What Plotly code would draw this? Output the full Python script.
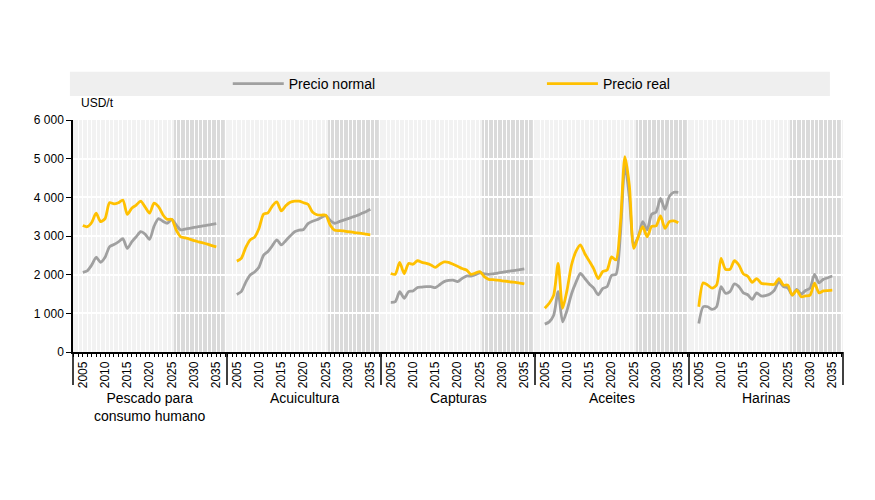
import plotly.graph_objects as go
from plotly.subplots import make_subplots

years = list(range(2005, 2036))
categories = ["Pescado para<br>consumo humano", "Acuicultura", "Capturas", "Aceites", "Harinas"]

# USD/t, precio normal (nominal)
pescado_normal = [2060, 2100, 2250, 2450, 2320, 2450, 2720, 2780, 2850, 2930, 2680, 2850, 2980, 3110, 3050,
                  2910, 3250, 3450, 3380, 3330, 3430, 3280, 3160, 3180, 3200, 3220, 3240, 3260, 3280, 3300, 3320]
acui_normal = [1490, 1560, 1800, 1990, 2070, 2200, 2500, 2600, 2750, 2900, 2770, 2880, 3000, 3110, 3150,
               3170, 3320, 3380, 3420, 3480, 3530, 3400, 3330, 3370, 3410, 3450, 3490, 3530, 3580, 3630, 3690]
capt_normal = [1285, 1300, 1560, 1390, 1560, 1580, 1670, 1680, 1690, 1690, 1665, 1740, 1820, 1850, 1860,
               1820, 1900, 1965, 1965, 2000, 2050, 2020, 2010, 2020, 2040, 2060, 2080, 2100, 2110, 2130, 2150]
aceite_normal = [720, 780, 950, 1560, 780, 1080, 1500, 1800, 2030, 1900, 1760, 1650, 1480, 1640, 1690,
                 1980, 2010, 3070, 4840, 4000, 2770, 2980, 3370, 3160, 3560, 3620, 3970, 3690, 4030, 4130, 4130]
harina_normal = [740, 1170, 1170, 1100, 1170, 1690, 1520, 1560, 1760, 1690, 1530, 1480, 1360, 1530, 1450,
                 1460, 1500, 1600, 1820, 1690, 1660, 1470, 1620, 1500, 1590, 1650, 2010, 1790, 1880, 1920, 1965]

# USD/t, precio real
pescado_real = [3270, 3240, 3350, 3590, 3370, 3450, 3860, 3830, 3860, 3930, 3560, 3720, 3800, 3900, 3750,
                3590, 3850, 3760, 3550, 3430, 3430, 3150, 2980, 2950, 2920, 2880, 2850, 2820, 2790, 2750, 2720]
acui_real = [2350, 2420, 2700, 2900, 2970, 3200, 3560, 3600, 3780, 3880, 3650, 3780, 3870, 3900, 3900,
             3860, 3820, 3620, 3550, 3540, 3540, 3280, 3150, 3140, 3130, 3110, 3100, 3080, 3070, 3050, 3030]
capt_real = [2030, 2010, 2320, 2030, 2290, 2270, 2360, 2320, 2290, 2250, 2190, 2270, 2330, 2320, 2270,
             2220, 2160, 2120, 2010, 2040, 2080, 1950, 1880, 1870, 1860, 1840, 1830, 1810, 1800, 1780, 1760]
aceite_real = [1130, 1260, 1470, 2290, 1130, 1600, 2250, 2600, 2770, 2540, 2350, 2150, 1900, 2080, 2120,
               2460, 2380, 3330, 5050, 4300, 2680, 2980, 3240, 2980, 3250, 3260, 3520, 3200, 3370, 3390, 3340]
harina_real = [1170, 1790, 1730, 1650, 1730, 2420, 2140, 2140, 2360, 2250, 2020, 1960, 1800, 1900, 1780,
               1760, 1750, 1750, 1900, 1730, 1730, 1470, 1600, 1430, 1450, 1470, 1780, 1530, 1580, 1590, 1600]

normal = [pescado_normal, acui_normal, capt_normal, aceite_normal, harina_normal]
real = [pescado_real, acui_real, capt_real, aceite_real, harina_real]

y_ticks = [0, 1000, 2000, 3000, 4000, 5000, 6000]
y_ticktext = ["0", "1 000", "2 000", "3 000", "4 000", "5 000", "6 000"]

GRAY = "#a0a0a0"
GOLD = "#ffc000"
FONT = "Liberation Sans, Arial, sans-serif"

fig = make_subplots(rows=1, cols=5, horizontal_spacing=0, shared_yaxes=True)

for i in range(5):
    fig.add_trace(go.Scatter(x=years, y=normal[i], mode="lines", name="Precio normal",
                             line=dict(color=GRAY, width=2.8, shape="spline", smoothing=0.7),
                             showlegend=(i == 0), legend="legend"), row=1, col=i + 1)
    fig.add_trace(go.Scatter(x=years, y=real[i], mode="lines", name="Precio real",
                             line=dict(color=GOLD, width=2.8, shape="spline", smoothing=0.7),
                             showlegend=(i == 0), legend="legend2"), row=1, col=i + 1)
    xref = "x" if i == 0 else "x%d" % (i + 1)
    # projection period shading
    fig.add_shape(type="rect", xref=xref, yref=xref.replace("x", "y") + " domain",
                  x0=2025.5, x1=2036.9, y0=0, y1=1, fillcolor="#dadada",
                  line_width=0, layer="below")
    fig.add_annotation(text=categories[i], xref="paper", yref="paper",
                       x=0.1 + 0.2 * i, y=-0.155, xanchor="center", yanchor="top",
                       showarrow=False, font=dict(size=14, color="#000000"))

fig.update_xaxes(range=[2002.8, 2037.4], tick0=2005, dtick=5, tickangle=-90,
                 ticks="outside", ticklen=3, tickcolor="black", automargin=False,
                 tickfont=dict(size=12, color="#000000"),
                 showgrid=True, gridcolor="white", gridwidth=1,
                 minor=dict(dtick=1, tick0=2005, ticks="outside", ticklen=3, tickcolor="black",
                            showgrid=True, gridcolor="white", gridwidth=1),
                 showline=True, linecolor="black", linewidth=1.5, zeroline=False)
fig.update_yaxes(range=[0, 6000], tickvals=y_ticks, ticktext=y_ticktext, automargin=False,
                 showgrid=True, gridcolor="white", gridwidth=1.5, zeroline=False,
                 tickfont=dict(size=12, color="#000000"))
fig.update_yaxes(showline=True, linecolor="black", linewidth=1.5, ticks="outside",
                 ticklen=5, tickcolor="black", row=1, col=1)

# panel separators below the axis
for k in range(6):
    fig.add_shape(type="line", xref="paper", yref="paper", x0=0.2 * k, x1=0.2 * k,
                  y0=0, y1=-0.142, line=dict(color="black", width=1.5))

# legend band
fig.add_shape(type="rect", xref="paper", yref="paper", x0=-0.004, x1=0.983,
              y0=1.103, y1=1.208, fillcolor="#efefef", line_width=0, layer="below")

fig.add_annotation(text="USD/t", xref="paper", yref="paper", x=0.008, y=1.035,
                   xanchor="left", yanchor="bottom", showarrow=False,
                   font=dict(size=12, color="#000000"))

leg = dict(orientation="h", xanchor="left", y=1.155, yanchor="middle", itemwidth=51,
           bgcolor="rgba(0,0,0,0)", font=dict(size=14, color="#000000"))

fig.update_layout(
    width=875, height=500,
    margin=dict(l=65, r=40, t=112, b=156, autoexpand=False),
    plot_bgcolor="#f2f2f2", paper_bgcolor="white",
    font=dict(family=FONT, color="#000000"),
    legend=dict(leg, x=0.201),
    legend2=dict(leg, x=0.609),
)

fig.write_html("out.html")
